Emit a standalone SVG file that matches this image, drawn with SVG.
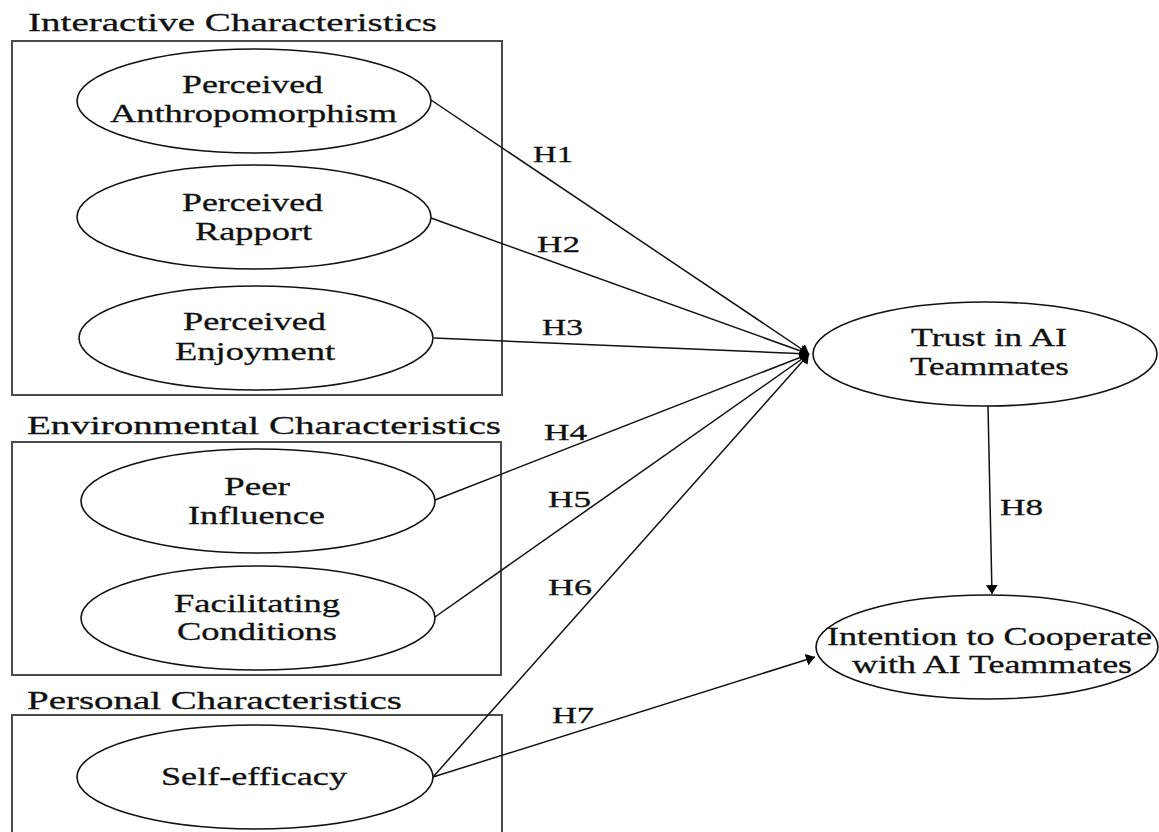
<svg xmlns="http://www.w3.org/2000/svg" width="1159" height="832" viewBox="0 0 1159 832">
<style>
.bg{fill:#fff}
.box{fill:none;stroke:#4a4a4a;stroke-width:2}
.node{fill:#fff;stroke:#111;stroke-width:1.6}
.t,.title,.lab{font-family:"Liberation Serif","Times New Roman",serif;fill:#111;stroke:#111;stroke-width:0.3}
.t{font-size:24.5px}
.title{font-size:25.5px}
.lab{font-size:23px}
.edge{fill:none;stroke:#111;stroke-width:1.5}
</style>
<defs>
<marker id="arr" viewBox="0 0 9 12" refX="9" refY="6" markerWidth="9" markerHeight="12" markerUnits="userSpaceOnUse" orient="auto">
<path d="M0,0 L9,6 L0,12 z" fill="#000"/>
</marker>
</defs>
<rect class="bg" x="0" y="0" width="1159" height="832"/>

<g id="group-interactive">
<text class="title" transform="translate(28,31) scale(1.5,1)" textLength="272.7" lengthAdjust="spacingAndGlyphs">Interactive Characteristics</text>
<rect class="box" x="12" y="41" width="490" height="354"/>
</g>
<g id="group-environmental">
<text class="title" transform="translate(27,434) scale(1.5,1)" textLength="316" lengthAdjust="spacingAndGlyphs">Environmental Characteristics</text>
<rect class="box" x="12" y="442" width="489" height="233"/>
</g>
<g id="group-personal">
<text class="title" transform="translate(27,709) scale(1.5,1)" textLength="250" lengthAdjust="spacingAndGlyphs">Personal Characteristics</text>
<rect class="box" x="12" y="715" width="490" height="140"/>
</g>

<g id="connectors">
<line class="edge" x1="431" y1="100" x2="809" y2="354" marker-end="url(#arr)"/>
<line class="edge" x1="431" y1="218" x2="809" y2="354" marker-end="url(#arr)"/>
<line class="edge" x1="434" y1="338" x2="809" y2="354" marker-end="url(#arr)"/>
<line class="edge" x1="435" y1="500" x2="809" y2="354" marker-end="url(#arr)"/>
<line class="edge" x1="435" y1="617" x2="809" y2="354" marker-end="url(#arr)"/>
<line class="edge" x1="433" y1="777" x2="809" y2="354" marker-end="url(#arr)"/>
<line class="edge" x1="433" y1="777" x2="815" y2="657" marker-end="url(#arr)"/>
<line class="edge" x1="988" y1="406" x2="992" y2="594" marker-end="url(#arr)"/>
<text class="lab" transform="translate(533,162) scale(1.5,1)" textLength="26.7" lengthAdjust="spacingAndGlyphs">H1</text>
<text class="lab" transform="translate(537,252) scale(1.5,1)" textLength="28.7" lengthAdjust="spacingAndGlyphs">H2</text>
<text class="lab" transform="translate(542,335) scale(1.5,1)" textLength="27.3" lengthAdjust="spacingAndGlyphs">H3</text>
<text class="lab" transform="translate(544,440) scale(1.5,1)" textLength="28.7" lengthAdjust="spacingAndGlyphs">H4</text>
<text class="lab" transform="translate(548,507) scale(1.5,1)" textLength="28.7" lengthAdjust="spacingAndGlyphs">H5</text>
<text class="lab" transform="translate(548,595) scale(1.5,1)" textLength="29.3" lengthAdjust="spacingAndGlyphs">H6</text>
<text class="lab" transform="translate(552,723) scale(1.5,1)" textLength="28" lengthAdjust="spacingAndGlyphs">H7</text>
<text class="lab" transform="translate(1000,515) scale(1.5,1)" textLength="28.7" lengthAdjust="spacingAndGlyphs">H8</text>
</g>

<g id="node-anthropomorphism">
<ellipse class="node" cx="254" cy="101" rx="177" ry="52"/>
<text class="t" transform="translate(182,93) scale(1.5,1)" textLength="94" lengthAdjust="spacingAndGlyphs">Perceived</text>
<text class="t" transform="translate(110,122) scale(1.5,1)" textLength="191.3" lengthAdjust="spacingAndGlyphs">Anthropomorphism</text>
</g>
<g id="node-rapport">
<ellipse class="node" cx="254" cy="217" rx="177" ry="52"/>
<text class="t" transform="translate(182,211) scale(1.5,1)" textLength="94" lengthAdjust="spacingAndGlyphs">Perceived</text>
<text class="t" transform="translate(195,240) scale(1.5,1)" textLength="78" lengthAdjust="spacingAndGlyphs">Rapport</text>
</g>
<g id="node-enjoyment">
<ellipse class="node" cx="256" cy="338" rx="177" ry="52"/>
<text class="t" transform="translate(183,330) scale(1.5,1)" textLength="95.3" lengthAdjust="spacingAndGlyphs">Perceived</text>
<text class="t" transform="translate(175,360) scale(1.5,1)" textLength="106.7" lengthAdjust="spacingAndGlyphs">Enjoyment</text>
</g>
<g id="node-peer">
<ellipse class="node" cx="258" cy="501" rx="177" ry="52"/>
<text class="t" transform="translate(224,495) scale(1.5,1)" textLength="44" lengthAdjust="spacingAndGlyphs">Peer</text>
<text class="t" transform="translate(188,524) scale(1.5,1)" textLength="91.3" lengthAdjust="spacingAndGlyphs">Influence</text>
</g>
<g id="node-facilitating">
<ellipse class="node" cx="258" cy="618" rx="177" ry="52"/>
<text class="t" transform="translate(174,612) scale(1.5,1)" textLength="110.7" lengthAdjust="spacingAndGlyphs">Facilitating</text>
<text class="t" transform="translate(177,640) scale(1.5,1)" textLength="106.7" lengthAdjust="spacingAndGlyphs">Conditions</text>
</g>
<g id="node-selfefficacy">
<ellipse class="node" cx="255" cy="777" rx="178" ry="52"/>
<text class="t" transform="translate(161,785) scale(1.5,1)" textLength="124" lengthAdjust="spacingAndGlyphs">Self-efficacy</text>
</g>
<g id="node-trust">
<ellipse class="node" cx="985" cy="354" rx="172" ry="52"/>
<text class="t" transform="translate(911,346) scale(1.5,1)" textLength="104" lengthAdjust="spacingAndGlyphs">Trust in AI</text>
<text class="t" transform="translate(910,375) scale(1.5,1)" textLength="106" lengthAdjust="spacingAndGlyphs">Teammates</text>
</g>
<g id="node-intention">
<ellipse class="node" cx="987" cy="647" rx="171" ry="52"/>
<text class="t" transform="translate(827,645) scale(1.5,1)" textLength="216.7" lengthAdjust="spacingAndGlyphs">Intention to Cooperate</text>
<text class="t" transform="translate(852,673) scale(1.5,1)" textLength="186.7" lengthAdjust="spacingAndGlyphs">with AI Teammates</text>
</g>
</svg>
